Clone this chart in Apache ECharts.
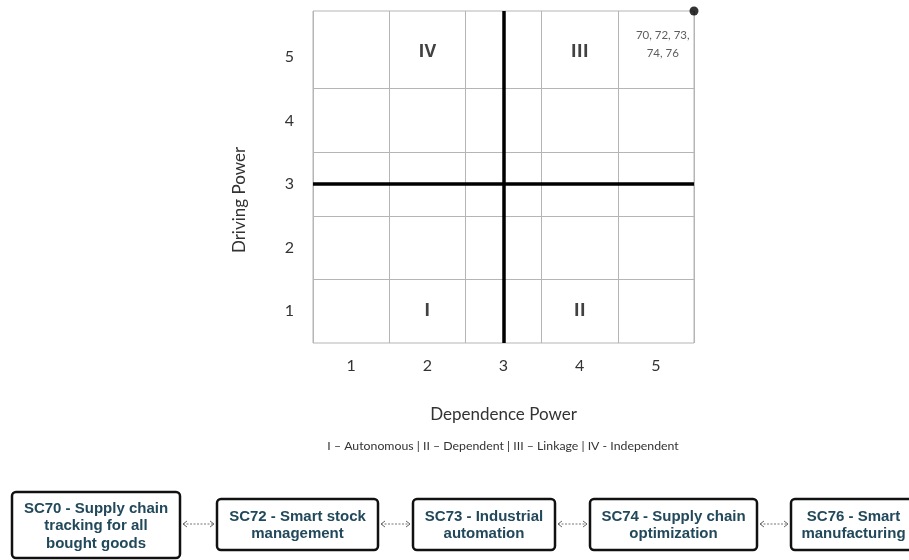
<!DOCTYPE html>
<html>
<head>
<meta charset="utf-8">
<script src="https://cdn.jsdelivr.net/npm/echarts@6/dist/echarts.min.js"></script>
<style>
  html, body { margin: 0; padding: 0; background: #fff; }
  #box1 { width: 909px; height: 560px; }
</style>
</head>
<body>
<div id="box1"></div>
<script>
// data
var dependenceTicks = ['1', '2', '3', '4', '5'];
var drivingTicks = ['1', '2', '3', '4', '5'];
var drivingMax = 5.72; // top row of the matrix is drawn a bit taller
var quadrantNames = ['IV', 'III', 'I', 'II'];
var quadrantX = [2, 4, 2, 4];
var quadrantY = [5.08, 5.08, 1, 1];
var midDependence = 3;
var midDriving = 3;
var clusterPoint = [5.5, drivingMax];
var clusterText = '70, 72, 73,\n74, 76';
var clusterTextAt = [5.09, 5.2];
var legendText = 'I \u2013 Autonomous | II \u2013 Dependent | III \u2013 Linkage | IV - Independent';
var steps = [
  'SC70 - Supply chain\ntracking for all\nbought goods',
  'SC72 - Smart stock\nmanagement',
  'SC73 - Industrial\nautomation',
  'SC74 - Supply chain\noptimization',
  'SC76 - Smart\nmanufacturing'
];

// layout of the flow boxes under the chart [x, y, w, h]
var boxLayout = [
  [12, 492, 168, 66],
  [217, 499, 161, 51],
  [413, 499, 142, 51],
  [590, 499, 167, 51],
  [791, 499, 125, 51]
];

var chart = echarts.init(document.getElementById('box1'));
var font = 'Lato';
var gridColor = '#b5b5b5';

var graphics = [{
  type: 'text',
  style: {
    text: legendText, x: 503, y: 446, align: 'center', verticalAlign: 'middle',
    font: '12.3px ' + font, fill: '#333'
  }
}];
boxLayout.forEach(function(b, i) {
  graphics.push({
    type: 'rect',
    shape: { x: b[0], y: b[1], width: b[2], height: b[3], r: 4 },
    style: { fill: '#fff', stroke: '#111', lineWidth: 2.5 }
  });
  graphics.push({
    type: 'text',
    style: {
      text: steps[i], x: b[0] + b[2] / 2, y: b[1] + b[3] / 2 + 1,
      align: 'center', verticalAlign: 'middle', lineHeight: 17.5,
      font: 'bold 15px "Liberation Sans"', fill: '#22495b'
    }
  });
  if (i > 0) {
    var x1 = boxLayout[i - 1][0] + boxLayout[i - 1][2] + 3;
    var x2 = b[0] - 3;
    var y = 524;
    graphics.push({
      type: 'line', shape: { x1: x1, y1: y, x2: x2, y2: y },
      style: { stroke: '#777', lineWidth: 1, lineDash: [2, 1.5] }
    });
    graphics.push({
      type: 'polyline', shape: { points: [[x1 + 4, y - 3], [x1, y], [x1 + 4, y + 3]] },
      style: { stroke: '#666', lineWidth: 1, fill: null }
    });
    graphics.push({
      type: 'polyline', shape: { points: [[x2 - 4, y - 3], [x2, y], [x2 - 4, y + 3]] },
      style: { stroke: '#666', lineWidth: 1, fill: null }
    });
  }
});

var quadrantData = quadrantNames.map(function(n, i) {
  return { name: n, value: [quadrantX[i], quadrantY[i]] };
});

// split lines only on the row borders (x.5), ticks run every 0.5
var T = 'rgba(0,0,0,0)';
var rowLineColors = [T, T, gridColor, T, gridColor, T, gridColor, T, gridColor, T, T, T, T];

var option = {
  animation: false,
  backgroundColor: '#fff',
  grid: {
    left: 313, top: 11, width: 381, height: 332,
    show: true, borderColor: gridColor, borderWidth: 1, backgroundColor: 'transparent'
  },
  xAxis: [{
    type: 'category',
    data: dependenceTicks,
    boundaryGap: true,
    name: 'Dependence Power',
    nameLocation: 'middle',
    nameGap: 63,
    nameTextStyle: { fontFamily: font, fontSize: 17, color: '#333' },
    axisLine: { show: false },
    axisTick: { show: false },
    axisLabel: { fontFamily: font, fontSize: 16, color: '#333', margin: 15 },
    splitLine: { show: true, lineStyle: { color: gridColor, width: 1 } }
  }, {
    type: 'value', min: 0.5, max: 5.5, show: false
  }],
  yAxis: [{
    type: 'value',
    min: 0.5,
    max: drivingMax,
    interval: 0.5,
    name: 'Driving Power',
    nameLocation: 'middle',
    nameGap: 65,
    nameTextStyle: { fontFamily: font, fontSize: 17, color: '#333', padding: [0, 46, 0, 0] },
    axisLine: { show: false },
    axisTick: { show: false },
    axisLabel: {
      fontFamily: font, fontSize: 16, color: '#333', margin: 19,
      showMaxLabel: false,
      formatter: function(v) {
        return v % 1 === 0 ? drivingTicks[v - 1] : '';
      }
    },
    splitLine: { show: true, lineStyle: { color: rowLineColors, width: 1 } }
  }],
  series: [{
    type: 'scatter',
    xAxisIndex: 1,
    yAxisIndex: 0,
    clip: false,
    symbolSize: 9,
    itemStyle: { color: '#000' },
    data: [clusterPoint],
    markLine: {
      silent: true,
      symbol: 'none',
      label: { show: false },
      lineStyle: { color: '#000', width: 3.5, type: 'solid' },
      data: [{ xAxis: midDependence }, { yAxis: midDriving }]
    },
    z: 5
  }, {
    type: 'scatter',
    xAxisIndex: 1,
    yAxisIndex: 0,
    symbolSize: 1,
    itemStyle: { color: 'transparent' },
    label: {
      show: true, position: 'inside', formatter: '{b}',
      fontFamily: 'Open Sans', fontWeight: 'bold', fontSize: 18, color: '#111'
    },
    data: quadrantData
  }, {
    type: 'scatter',
    xAxisIndex: 1,
    yAxisIndex: 0,
    symbolSize: 1,
    itemStyle: { color: 'transparent' },
    label: {
      show: true, position: 'inside', formatter: clusterText,
      fontFamily: font, fontSize: 11.5, color: '#333', lineHeight: 18, align: 'center'
    },
    data: [clusterTextAt]
  }],
  graphic: graphics
};
chart.setOption(option);
</script>
</body>
</html>
